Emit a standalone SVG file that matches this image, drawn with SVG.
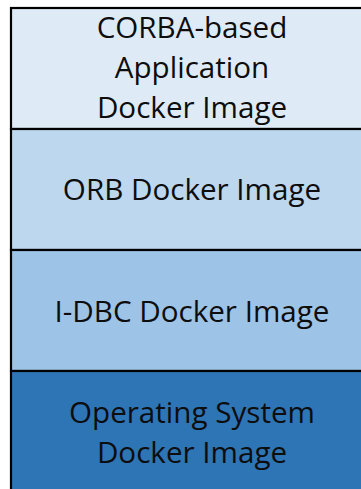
<svg xmlns="http://www.w3.org/2000/svg" width="361" height="489" viewBox="0 0 361 489">
<style>
.box{stroke:#000;stroke-width:2.2}
.t{font-family:"Open Sans","Liberation Sans",sans-serif;font-size:29.6px;fill:#0d0d0d;text-anchor:middle}
</style>
<rect width="361" height="489" fill="#fff"/>
<g id="node-app">
<rect class="box" x="11" y="8" width="362" height="121" fill="#DEEBF7"/>
<text class="t" x="192" y="38">CORBA-based</text>
<text class="t" x="192" y="78">Application</text>
<text class="t" x="192" y="118">Docker Image</text>
</g>
<g id="node-orb">
<rect class="box" x="11" y="129" width="362" height="121" fill="#BDD7EE"/>
<text class="t" x="192" y="200">ORB Docker Image</text>
</g>
<g id="node-idbc">
<rect class="box" x="11" y="250" width="362" height="121" fill="#9DC3E6"/>
<text class="t" x="192" y="321.5">I-DBC Docker Image</text>
</g>
<g id="node-os">
<rect class="box" x="11" y="371" width="362" height="130" fill="#2E75B6"/>
<text class="t" x="192" y="423">Operating System</text>
<text class="t" x="192" y="463">Docker Image</text>
</g>
<g id="connectors"></g>
</svg>
